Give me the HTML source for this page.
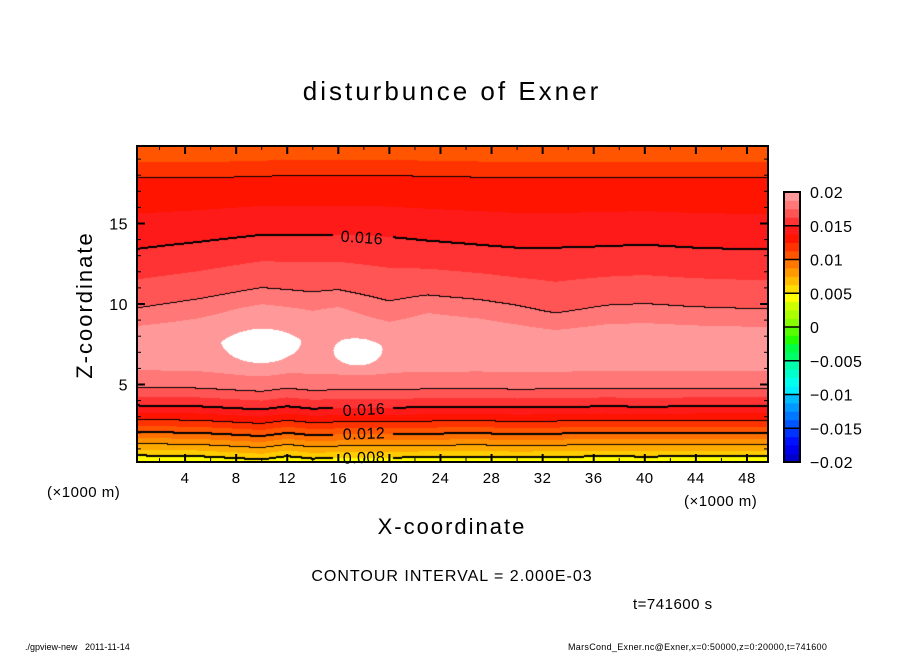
<!DOCTYPE html>
<html><head><meta charset="utf-8">
<style>
body{margin:0;background:#fff;}
#wrap{position:relative;width:904px;height:654px;overflow:hidden;font-family:"Liberation Sans",sans-serif;color:#000;}
.t{position:absolute;white-space:nowrap;}
</style></head>
<body>
<div id="wrap">
<div class="t" style="left:0;width:904px;text-align:center;top:76px;font-size:26px;letter-spacing:3px;">disturbunce of Exner</div>
<canvas id="cv" width="631" height="316" style="position:absolute;left:137px;top:146px;"></canvas>
<svg id="sv" width="904" height="654" style="position:absolute;left:0;top:0;"></svg>
<div class="t" style="left:0;width:904px;text-align:center;top:514px;font-size:22px;letter-spacing:2px;">X-coordinate</div>
<div class="t" style="left:-5px;top:292px;font-size:22px;letter-spacing:2px;width:180px;text-align:center;transform:rotate(-90deg);">Z-coordinate</div>
<div class="t" style="left:47px;top:484px;font-size:15px;letter-spacing:0.5px;">(×1000 m)</div>
<div class="t" style="left:684px;top:493px;font-size:15px;letter-spacing:0.5px;">(×1000 m)</div>
<div class="t" style="left:0;width:904px;text-align:center;top:568px;font-size:16px;letter-spacing:1px;">CONTOUR INTERVAL = 2.000E-03</div>
<div class="t" style="left:633px;top:596px;font-size:15px;letter-spacing:0.5px;">t=741600 s</div>
<div class="t" style="left:25px;top:642px;font-size:9px;">./gpview-new&nbsp;&nbsp;&nbsp;2011-11-14</div>
<div class="t" style="left:568px;top:642px;font-size:9px;letter-spacing:0.3px;">MarsCond_Exner.nc@Exner,x=0:50000,z=0:20000,t=741600</div>
</div>
<script>
// ---- data ----
const zRef = [0.2, 0.6, 1.3, 2.05, 2.8, 3.7, 4.8, 6.0, 7.3, 8.5, 9.7, 11.5, 13.4, 15.6, 17.8, 18.2, 19.4, 19.8];
const vRef = [0.0065, 0.008, 0.010, 0.012, 0.014, 0.016, 0.018, 0.0191, 0.0196, 0.0191, 0.018, 0.0170, 0.016, 0.0150, 0.014, 0.0134, 0.0126, 0.0122];
const shiftX = [0, 5, 10, 12, 14, 16, 20, 23, 27, 30, 33, 37, 40, 44, 48, 50];
const lowShift = [0, -0.05, -0.25, -0.05, -0.2, -0.15, -0.15, -0.1, -0.08, -0.12, -0.1, -0.05, -0.08, -0.05, -0.05, -0.05];
const midShift = [0, 0.6, 1.4, 1.2, 1.0, 1.2, 0.4, 0.9, 0.6, 0.2, -0.3, 0.2, 0.3, 0.1, 0, 0];
const hiShift = [0, 0.5, 1.1, 1.1, 1.1, 1.1, 0.9, 0.6, 0.3, 0.1, 0.1, 0.2, 0.3, 0.1, 0, 0];
const topShift = [0, 0, 0.1, 0.15, 0.15, 0.15, 0.15, 0.1, 0.05, 0, 0, 0.05, 0.05, 0, 0, 0];
const bubbleX = [10, 17.5];
const bubbleZ = [7.3, 6.9];
const bubbleAmp = [0.0015, 0.0015];
const bubbleRx = [2.85, 1.9];
const bubbleRz = [1.15, 0.9];
const contourLevels = [0.008, 0.010, 0.012, 0.014, 0.016, 0.018];
const thickLevels = [0.008, 0.012, 0.016];
const plotLevels = [0.008, 0.009, 0.010, 0.011, 0.012, 0.013, 0.014, 0.015, 0.016, 0.017, 0.018, 0.019, 0.020];
const plotColors = ["#ffff00","#ffcc00","#ffaa00","#ff9000","#ff7000","#ff5500","#ff3300","#ff1400","#ff1a1a","#ff3333","#ff5555","#ff7777","#ff9999","#ffffff"];
const cbTicks = [0.02, 0.015, 0.01, 0.005, 0, -0.005, -0.01, -0.015, -0.02];
const cbTickLabels = ["0.02", "0.015", "0.01", "0.005", "0", "\u22120.005", "\u22120.01", "\u22120.015", "\u22120.02"];
const bandColors = ["#7a0aa0","#5a0a9a","#3a1298","#1a1a99","#0000cc","#0000ee","#0011ff","#0033ff","#0055ff","#0077ff","#0099ff","#00bbff","#00eeff","#00ffee","#00ffcc","#00ffaa","#00ff66","#00ff44","#22ff00","#55ff00","#88ff00","#aaff00","#ccff00","#ffff00","#ffdd00","#ffbb00","#ff9900","#ff7700","#ff5500","#ff3300","#ff1400","#ff1a1a","#ff3333","#ff5555","#ff7777","#ff9999"];
const xTicks = [4, 8, 12, 16, 20, 24, 28, 32, 36, 40, 44, 48];
const yTicks = [5, 10, 15];
// ---- axes ----
const X0 = 134, XS = 12.77, Z0 = 465, ZS = 16.1;
const px = x => X0 + x * XS;
const pz = z => Z0 - z * ZS;
const vMin = -0.02;
function interp(xs, ys, x){
  if (x <= xs[0]) return ys[0];
  for (let i = 1; i < xs.length; i++) if (x <= xs[i]) { const t = (x - xs[i-1]) / (xs[i] - xs[i-1]); return ys[i-1] + t * (ys[i] - ys[i-1]); }
  return ys[ys.length-1];
}
function field(x, z){
  const lo = interp(shiftX, lowShift, x), mi = interp(shiftX, midShift, x), hi = interp(shiftX, hiShift, x), tp = interp(shiftX, topShift, x);
  const s = interp([6, 9.7, 13.4, 17.8], [lo, mi, hi, tp], z);
  let v = interp(zRef, vRef, z - s);
  for (let b = 0; b < bubbleX.length; b++) {
    const dx = (x - bubbleX[b]) / bubbleRx[b], dz = (z - bubbleZ[b]) / bubbleRz[b];
    v += bubbleAmp[b] * Math.exp(-dx*dx - dz*dz);
  }
  return v;
}
function hex(c){ return [parseInt(c.substr(1,2),16), parseInt(c.substr(3,2),16), parseInt(c.substr(5,2),16)]; }
const prgb = plotColors.map(hex);
function colorOf(v){
  let k = 0; for (const L of plotLevels) if (v >= L) k++;
  return prgb[k];
}
const labelBoxes = [[333,226,392,246],[333,399,392,419],[333,423,392,443],[333,447,392,466]];
function inLabel(X, Y){ for (const b of labelBoxes) if (X>=b[0]&&X<=b[2]&&Y>=b[1]&&Y<=b[3]) return true; return false; }
const cv = document.getElementById('cv'), ctx = cv.getContext('2d');
const W = cv.width, H = cv.height, img = ctx.createImageData(W, H);
const vals = new Float32Array(W * H);
for (let j = 0; j < H; j++) for (let i = 0; i < W; i++) {
  const X = 137 + i + 0.5, Y = 146 + j + 0.5;
  vals[j*W+i] = field((X - X0) / XS, (Z0 - Y) / ZS);
}
function lvlIdx(v){ let k = 0; for (const L of contourLevels) if (v >= L) k++; return k; }
const lv = new Int8Array(W * H);
for (let p = 0; p < W*H; p++) lv[p] = lvlIdx(vals[p]);
const mask = new Uint8Array(W * H);
for (let j = 0; j < H; j++) for (let i = 0; i < W; i++) {
  const p = j*W+i;
  for (const [dx,dy] of [[1,0],[0,1]]) {
    const ii = i+dx, jj = j+dy; if (ii>=W||jj>=H) continue;
    const q = jj*W+ii;
    if (lv[q] !== lv[p]) {
      const L = contourLevels[Math.min(lv[p], lv[q])];
      mask[p] = Math.max(mask[p], thickLevels.includes(L) ? 2 : 1);
    }
  }
}
for (let j = 0; j < H; j++) for (let i = 0; i < W; i++) {
  const p = j*W+i; let c = colorOf(vals[p]);
  let line = mask[p] > 0 || (j > 0 && mask[p-W] === 2);
  if (line && !inLabel(137+i, 146+j)) c = [0,0,0];
  const o = p*4; img.data[o]=c[0]; img.data[o+1]=c[1]; img.data[o+2]=c[2]; img.data[o+3]=255;
}
ctx.putImageData(img, 0, 0);
// ---- svg overlay ----
const NS = 'http://www.w3.org/2000/svg', sv = document.getElementById('sv');
function mk(tag, attrs, txt){ const e = document.createElementNS(NS, tag); for (const k in attrs) e.setAttribute(k, attrs[k]); if (txt !== undefined) e.textContent = txt; sv.appendChild(e); return e; }
const clabels = [["0.016",362,243,4],["0.016",364,415,-3],["0.012",364,439,-2],["0.008",364,463,-2]];
for (const c of clabels) {
  const t = mk('text', {x:c[1], y:c[2], 'text-anchor':'middle', 'font-size':'16', 'letter-spacing':'0.5', 'font-family':'Liberation Sans, sans-serif', transform:`rotate(${c[3]} ${c[1]} ${c[2]-6})`}, c[0]);
  
  
}
const fr = mk('rect', {x:137, y:146, width:631, height:316, fill:'none', stroke:'#000', 'stroke-width':2});


for (let x = 2; x <= 48; x += 2) {
  const major = x % 4 === 0, L = major ? 8 : 4, X = px(x);
  mk('line', {x1:X, y1:462, x2:X, y2:462-L, stroke:'#000', 'stroke-width':major?2:1});
  mk('line', {x1:X, y1:146, x2:X, y2:146+L, stroke:'#000', 'stroke-width':major?2:1});
}
for (let i = 0; i < xTicks.length; i++) {
  const t = mk('text', {x:px(xTicks[i]), y:483, 'text-anchor':'middle', 'font-size':'15', 'letter-spacing':'0.5', 'font-family':'Liberation Sans, sans-serif'}, String(xTicks[i]));
  
  
}
for (let z = 1; z <= 19; z++) {
  const major = z % 5 === 0, L = major ? 8 : 4, Y = pz(z);
  mk('line', {x1:137, y1:Y, x2:137+L, y2:Y, stroke:'#000', 'stroke-width':major?2:1});
  mk('line', {x1:768, y1:Y, x2:768-L, y2:Y, stroke:'#000', 'stroke-width':major?2:1});
}
for (let i = 0; i < yTicks.length; i++) {
  const t = mk('text', {x:128, y:pz(yTicks[i])+6, 'text-anchor':'end', 'font-size':'16', 'letter-spacing':'0.5', 'font-family':'Liberation Sans, sans-serif'}, String(yTicks[i]));
  
  
}
const cbTop = 192, cbBot = 462, cbH = (cbBot - cbTop) / 32;
for (let k = 0; k < 32; k++) {
  const r = mk('rect', {x:784, y:cbBot - (k+1)*cbH, width:16, height:cbH+0.4, fill:bandColors[k+4]});
  
  
}
for (let k = 0; k <= 8; k++) mk('line', {x1:784, x2:800, y1:cbBot - k*4*cbH, y2:cbBot - k*4*cbH, stroke:'#000', 'stroke-width':1.5});
const cbf = mk('rect', {x:784, y:cbTop, width:16, height:cbBot-cbTop, fill:'none', stroke:'#000', 'stroke-width':2});


for (let i = 0; i < cbTicks.length; i++) {
  const Y = cbBot - (cbTicks[i] - vMin) / 0.04 * (cbBot - cbTop);
  const t = mk('text', {x:810, y:Y+6, 'font-size':'16', 'letter-spacing':'0.5', 'font-family':'Liberation Sans, sans-serif'}, cbTickLabels[i]);
  
  
}
</script>
</body></html>
